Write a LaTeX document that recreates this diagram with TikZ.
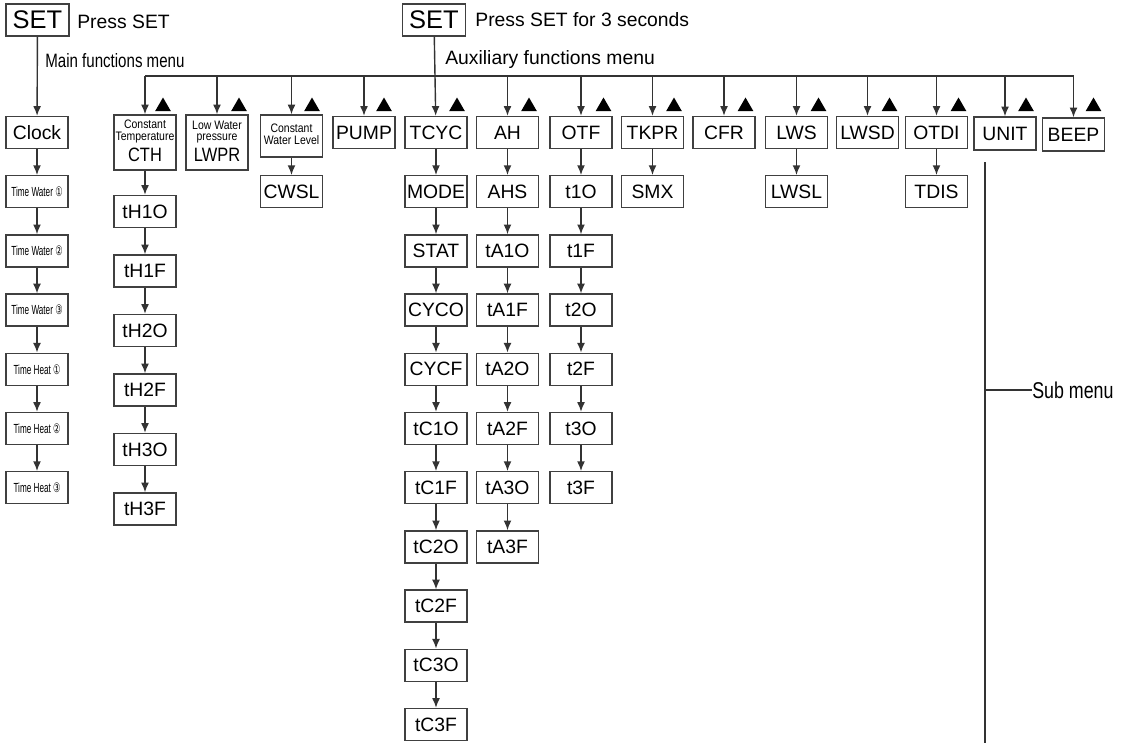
\documentclass[tikz,border=0pt]{standalone}
\usepackage{fontspec}
\setmainfont{Liberation Sans}
\newfontfamily\narrowfont[FakeStretch=0.78]{Liberation Sans}
\newfontfamily\smallfont[FakeStretch=0.85]{Liberation Sans}
\newfontfamily\timefont[FakeStretch=0.62]{Liberation Sans}
\newfontfamily\circfont[FakeStretch=0.62]{DejaVu Sans}
\usetikzlibrary{arrows.meta,shapes.geometric}

\newcommand{\boxf}{\fontsize{11}{13}\selectfont}
\newcommand{\setf}{\fontsize{14.5}{16}\selectfont}
\newcommand{\notef}{\fontsize{11}{13}\selectfont}
\newcommand{\smallf}{\smallfont\fontsize{7}{6.3}\selectfont}
\newcommand{\timef}{\timefont\fontsize{7.5}{9}\selectfont}

\begin{document}
\begin{tikzpicture}[
  line/.style={draw=black!80, line width=0.8pt},
  arr/.style={line, -{Latex[length=5.5pt,width=4.5pt]}},
  box/.style={draw=black!75, line width=0.8pt, minimum width=1.24cm, minimum height=0.64cm, inner sep=0pt, font=\boxf},
  setbox/.style={box, minimum width=1.26cm, font=\setf},
  note/.style={inner sep=0pt, font=\notef},
  tri/.style={regular polygon, regular polygon sides=3, minimum size=0.36cm, inner sep=0pt, fill=black}
]
\useasboundingbox (0,0) rectangle (22.54,-14.86);

% main functions
\node [setbox] (setA) at (0.75,-0.40) {SET};
\node [note, anchor=west] (pressA) at (1.54,-0.44) {Press SET};
\node [note, anchor=west] (menuA) at (0.90,-1.22) {\narrowfont Main functions menu};
\node [box] (clock) at (0.74,-2.65) {Clock};
\node [box] (tw1) at (0.74,-3.834) {\timef Time Water {\circfont ①}};
\node [box] (tw2) at (0.74,-5.018) {\timef Time Water {\circfont ②}};
\node [box] (tw3) at (0.74,-6.202) {\timef Time Water {\circfont ③}};
\node [box] (th1) at (0.74,-7.386) {\timef Time Heat {\circfont ①}};
\node [box] (th2) at (0.74,-8.570) {\timef Time Heat {\circfont ②}};
\node [box] (th3) at (0.74,-9.754) {\timef Time Heat {\circfont ③}};
\draw [arr] (setA) -- (clock);
\draw [arr] (clock) -- (tw1);
\draw [arr] (tw1) -- (tw2);
\draw [arr] (tw2) -- (tw3);
\draw [arr] (tw3) -- (th1);
\draw [arr] (th1) -- (th2);
\draw [arr] (th2) -- (th3);

% auxiliary functions
\node [setbox] (setB) at (8.68,-0.40) {SET};
\node [note, anchor=west] (pressB) at (9.50,-0.40) {Press SET for 3 seconds};
\node [note, anchor=west] (menuB) at (8.90,-1.18) {Auxiliary functions menu};

\node [box, minimum height=1.10cm] (cth) at (2.90,-2.85) {\smallf\begin{tabular}{@{}c@{}}Constant\\Temperature\\[2.5pt]\boxf CTH\end{tabular}};
\node [box] (th1o) at (2.90,-4.23) {tH1O};
\node [box] (th1f) at (2.90,-5.42) {tH1F};
\node [box] (th2o) at (2.90,-6.61) {tH2O};
\node [box] (th2f) at (2.90,-7.80) {tH2F};
\node [box] (th3o) at (2.90,-8.99) {tH3O};
\node [box] (th3f) at (2.90,-10.18) {tH3F};
\draw [arr] (cth) -- (th1o);
\draw [arr] (th1o) -- (th1f);
\draw [arr] (th1f) -- (th2o);
\draw [arr] (th2o) -- (th2f);
\draw [arr] (th2f) -- (th3o);
\draw [arr] (th3o) -- (th3f);

\node [box, minimum height=1.10cm] (lwpr) at (4.34,-2.85) {\smallf\begin{tabular}{@{}c@{}}Low Water\\pressure\\[2.5pt]\boxf LWPR\end{tabular}};

\node [box, minimum height=0.84cm] (cws) at (5.83,-2.72) {\smallf\begin{tabular}{@{}c@{}}Constant\\Water Level\end{tabular}};
\node [box] (cwsl) at (5.83,-3.834) {CWSL};
\draw [arr] (cws) -- (cwsl);

\node [box] (pump) at (7.28,-2.65) {PUMP};

\node [box] (tcyc) at (8.72,-2.65) {TCYC};
\node [box] (mode) at (8.72,-3.834) {MODE};
\node [box] (stat) at (8.72,-5.018) {STAT};
\node [box] (cyco) at (8.72,-6.202) {CYCO};
\node [box] (cycf) at (8.72,-7.386) {CYCF};
\node [box] (tc1o) at (8.72,-8.570) {tC1O};
\node [box] (tc1f) at (8.72,-9.754) {tC1F};
\node [box] (tc2o) at (8.72,-10.938) {tC2O};
\node [box] (tc2f) at (8.72,-12.122) {tC2F};
\node [box] (tc3o) at (8.72,-13.306) {tC3O};
\node [box] (tc3f) at (8.72,-14.490) {tC3F};
\draw [arr] (setB) -- (tcyc);
\draw [arr] (tcyc) -- (mode);
\draw [arr] (mode) -- (stat);
\draw [arr] (stat) -- (cyco);
\draw [arr] (cyco) -- (cycf);
\draw [arr] (cycf) -- (tc1o);
\draw [arr] (tc1o) -- (tc1f);
\draw [arr] (tc1f) -- (tc2o);
\draw [arr] (tc2o) -- (tc2f);
\draw [arr] (tc2f) -- (tc3o);
\draw [arr] (tc3o) -- (tc3f);

\node [box] (ah) at (10.15,-2.65) {AH};
\node [box] (ahs) at (10.15,-3.834) {AHS};
\node [box] (ta1o) at (10.15,-5.018) {tA1O};
\node [box] (ta1f) at (10.15,-6.202) {tA1F};
\node [box] (ta2o) at (10.15,-7.386) {tA2O};
\node [box] (ta2f) at (10.15,-8.570) {tA2F};
\node [box] (ta3o) at (10.15,-9.754) {tA3O};
\node [box] (ta3f) at (10.15,-10.938) {tA3F};
\draw [arr] (ah) -- (ahs);
\draw [arr] (ahs) -- (ta1o);
\draw [arr] (ta1o) -- (ta1f);
\draw [arr] (ta1f) -- (ta2o);
\draw [arr] (ta2o) -- (ta2f);
\draw [arr] (ta2f) -- (ta3o);
\draw [arr] (ta3o) -- (ta3f);

\node [box] (otf) at (11.62,-2.65) {OTF};
\node [box] (t1o) at (11.62,-3.834) {t1O};
\node [box] (t1f) at (11.62,-5.018) {t1F};
\node [box] (t2o) at (11.62,-6.202) {t2O};
\node [box] (t2f) at (11.62,-7.386) {t2F};
\node [box] (t3o) at (11.62,-8.570) {t3O};
\node [box] (t3f) at (11.62,-9.754) {t3F};
\draw [arr] (otf) -- (t1o);
\draw [arr] (t1o) -- (t1f);
\draw [arr] (t1f) -- (t2o);
\draw [arr] (t2o) -- (t2f);
\draw [arr] (t2f) -- (t3o);
\draw [arr] (t3o) -- (t3f);

\node [box] (tkpr) at (13.05,-2.65) {TKPR};
\node [box] (smx) at (13.05,-3.834) {SMX};
\draw [arr] (tkpr) -- (smx);
\node [box] (cfr) at (14.48,-2.65) {CFR};
\node [box] (lws) at (15.93,-2.65) {LWS};
\node [box] (lwsl) at (15.93,-3.834) {LWSL};
\draw [arr] (lws) -- (lwsl);
\node [box] (lwsd) at (17.35,-2.65) {LWSD};
\node [box] (otdi) at (18.73,-2.65) {OTDI};
\node [box] (tdis) at (18.73,-3.834) {TDIS};
\draw [arr] (otdi) -- (tdis);
\node [box, minimum height=0.66cm] (unit) at (20.10,-2.67) {UNIT};
\node [box, minimum height=0.66cm] (beep) at (21.47,-2.69) {BEEP};

% bus and drops
\coordinate (dCTH) at (2.90,-1.52);
\coordinate (dLWPR) at (4.34,-1.52);
\coordinate (dCWS) at (5.83,-1.52);
\coordinate (dPUMP) at (7.28,-1.52);
\coordinate (dAH) at (10.15,-1.52);
\coordinate (dOTF) at (11.62,-1.52);
\coordinate (dTKPR) at (13.05,-1.52);
\coordinate (dCFR) at (14.48,-1.52);
\coordinate (dLWS) at (15.93,-1.52);
\coordinate (dLWSD) at (17.35,-1.52);
\coordinate (dOTDI) at (18.73,-1.52);
\coordinate (dUNIT) at (20.10,-1.52);
\coordinate (dBEEP) at (21.47,-1.52);
\draw [line] (dCTH) -- (dBEEP);
\draw [arr] (dCTH) -- (cth);
\draw [arr] (dLWPR) -- (lwpr);
\draw [arr] (dCWS) -- (cws);
\draw [arr] (dPUMP) -- (pump);
\draw [arr] (dAH) -- (ah);
\draw [arr] (dOTF) -- (otf);
\draw [arr] (dTKPR) -- (tkpr);
\draw [arr] (dCFR) -- (cfr);
\draw [arr] (dLWS) -- (lws);
\draw [arr] (dLWSD) -- (lwsd);
\draw [arr] (dOTDI) -- (otdi);
\draw [arr] (dUNIT) -- (unit);
\draw [arr] (dBEEP) -- (beep);

% up keys
\node [tri] (kCTH) at (3.26,-2.13) {};
\node [tri] (kLWPR) at (4.78,-2.13) {};
\node [tri] (kCWS) at (6.24,-2.13) {};
\node [tri] (kPUMP) at (7.68,-2.13) {};
\node [tri] (kTCYC) at (9.14,-2.13) {};
\node [tri] (kAH) at (10.58,-2.13) {};
\node [tri] (kOTF) at (12.07,-2.13) {};
\node [tri] (kTKPR) at (13.48,-2.13) {};
\node [tri] (kCFR) at (14.91,-2.13) {};
\node [tri] (kLWS) at (16.37,-2.13) {};
\node [tri] (kLWSD) at (17.79,-2.13) {};
\node [tri] (kOTDI) at (19.17,-2.13) {};
\node [tri] (kUNIT) at (20.52,-2.13) {};
\node [tri] (kBEEP) at (21.87,-2.13) {};

% sub menu
\coordinate (sTop) at (19.70,-3.24);
\coordinate (sBot) at (19.70,-14.86);
\coordinate (sJoin) at (19.70,-7.80);
\node [note, anchor=west, font=\narrowfont\fontsize{13}{15}\selectfont] (sub) at (20.64,-7.80) {Sub menu};
\draw [line] (sTop) -- (sBot);
\draw [line] (sJoin) -- (sub);
\end{tikzpicture}
\end{document}
